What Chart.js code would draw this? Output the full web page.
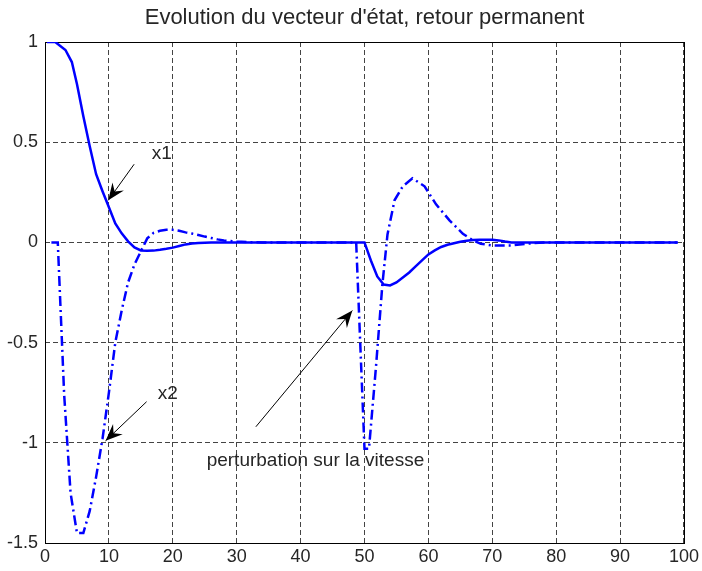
<!DOCTYPE html>
<html>
<head>
<meta charset="utf-8">
<script src="https://cdn.jsdelivr.net/npm/chart.js@4.4.0/dist/chart.umd.min.js"></script>
<style>
html, body { margin: 0; padding: 0; background: #fff; }
#wrap { width: 702px; height: 571px; }
</style>
</head>
<body>
<div id="wrap"><canvas id="myChart"></canvas></div>
<script>
var titre = "Evolution du vecteur d'état, retour permanent";

// x1 : trait plein
var x1Temps   = [0.3, 1.6, 3.2, 4.2, 5, 6, 7, 8, 9, 10, 11, 12, 13, 14, 15, 16, 17, 18, 19, 20,
                 21, 22, 23, 24, 26, 28, 35, 40, 45, 50, 51, 52, 53, 54, 55, 56, 57, 58, 59, 60,
                 61, 62, 63, 64, 65, 66, 67, 68, 70, 71, 72, 73, 80, 90, 99];
var x1Valeurs = [1, 1, 0.96, 0.9, 0.79, 0.63, 0.48, 0.34, 0.255, 0.175, 0.095, 0.045, 0.005, -0.025, -0.04, -0.042, -0.041, -0.037, -0.032, -0.026,
                 -0.018, -0.01, -0.005, -0.003, -0.001, 0, 0, 0, 0, 0, -0.09, -0.17, -0.21, -0.215, -0.2, -0.175, -0.15, -0.12, -0.09, -0.06,
                 -0.04, -0.023, -0.012, -0.004, 0.003, 0.008, 0.012, 0.013, 0.013, 0.01, 0.004, 0, 0, 0, 0];

// x2 : trait mixte
var x2Temps   = [1, 2, 3, 4, 5, 6, 7, 8, 9, 10, 11, 12, 13, 14, 15, 16, 17, 18, 19, 20,
                 21, 22, 23, 24, 25, 26, 27, 28, 29, 30, 32, 34, 40, 48.7, 50, 50.7, 51.8, 52.8, 53.6, 54.7,
                 56, 57.5, 59.4, 61.2, 63.3, 65.4, 67, 68.2, 70, 73, 76, 78, 90, 99];
var x2Valeurs = [0, 0, -0.76, -1.25, -1.45, -1.45, -1.34, -1.17, -0.98, -0.75, -0.5, -0.34, -0.2, -0.11, -0.045, 0.02, 0.048, 0.058, 0.063, 0.063,
                 0.058, 0.05, 0.044, 0.037, 0.029, 0.022, 0.015, 0.01, 0.007, 0.004, 0.001, 0, 0, 0, -1.03, -1.03, -0.62, -0.21, 0.04, 0.21,
                 0.28, 0.32, 0.28, 0.19, 0.11, 0.043, 0.01, -0.007, -0.015, -0.015, -0.005, 0, 0, 0];

// graduations
var xGraduations = [0, 10, 20, 30, 40, 50, 60, 70, 80, 90, 100];
var yGraduations = ['1', '0.5', '0', '-0.5', '-1', '-1.5'];

// annotations (coordonnees en unites du graphe)
var noteTextes = ['x1', 'x2', 'perturbation sur la vitesse'];
var noteX = [16.7, 17.65, 25.3];
var noteY = [0.44, -0.755, -1.09];
var flecheDepart  = [[13.95, 0.39], [15.9, -0.795], [33.0, -0.92]];
var flecheArrivee = [[9.9, 0.21], [9.48, -0.99], [48.1, -0.34]];

var police = "'Liberation Sans', Arial, sans-serif";
var couleurTexte = '#262626';

function points(t, v) {
    return t.map(function(x, i){ return {x: x, y: v[i]}; });
}

function fleche(ctx, xa, ya, xb, yb) {
    var ang = Math.atan2(yb - ya, xb - xa);
    ctx.beginPath();
    ctx.moveTo(xa, ya);
    ctx.lineTo(xb, yb);
    ctx.stroke();
    ctx.save();
    ctx.translate(xb, yb);
    ctx.rotate(ang);
    ctx.beginPath();
    ctx.moveTo(0, 0);
    ctx.lineTo(-17, -7);
    ctx.lineTo(-11, 0);
    ctx.lineTo(-17, 7);
    ctx.closePath();
    ctx.fill();
    ctx.restore();
}

var cadre = {
    id: 'cadre',
    beforeDatasetsDraw: function(chart) {
        var ctx = chart.ctx, a = chart.chartArea;
        ctx.save();
        ctx.strokeStyle = '#000';
        ctx.lineWidth = 1;
        ctx.setLineDash([]);
        ctx.strokeRect(Math.round(a.left) + 0.5, Math.round(a.top) + 0.5,
                       Math.round(a.right - a.left), Math.round(a.bottom - a.top));
        ctx.restore();
    },
    afterDatasetsDraw: function(chart) {
        var ctx = chart.ctx, a = chart.chartArea;
        var xs = chart.scales.x, ys = chart.scales.y;
        ctx.save();
        // titre
        ctx.fillStyle = couleurTexte;
        ctx.font = '22px ' + police;
        ctx.textAlign = 'center';
        ctx.textBaseline = 'middle';
        ctx.fillText(titre, (a.left + a.right) / 2, 18);
        // textes
        ctx.font = '19px ' + police;
        ctx.textAlign = 'left';
        for (var i = 0; i < noteTextes.length; i++) {
            ctx.fillText(noteTextes[i], xs.getPixelForValue(noteX[i]), ys.getPixelForValue(noteY[i]));
        }
        // fleches
        ctx.strokeStyle = '#000';
        ctx.fillStyle = '#000';
        ctx.lineWidth = 1;
        for (var j = 0; j < flecheDepart.length; j++) {
            fleche(ctx,
                xs.getPixelForValue(flecheDepart[j][0]), ys.getPixelForValue(flecheDepart[j][1]),
                xs.getPixelForValue(flecheArrivee[j][0]), ys.getPixelForValue(flecheArrivee[j][1]));
        }
        ctx.restore();
    }
};

var ctx = document.getElementById('myChart').getContext('2d');
var myChart = new Chart(ctx, {
    type: 'line',
    data: {
        datasets: [
            {
                label: 'x1',
                data: points(x1Temps, x1Valeurs),
                borderColor: '#0000ff',
                borderWidth: 2.5,
                pointRadius: 0,
                tension: 0,
                fill: false
            },
            {
                label: 'x2',
                data: points(x2Temps, x2Valeurs),
                borderColor: '#0000ff',
                borderWidth: 2.5,
                borderDash: [10, 4, 2, 4],
                pointRadius: 0,
                tension: 0,
                fill: false
            }
        ]
    },
    options: {
        responsive: true,
        maintainAspectRatio: false,
        animation: false,
        layout: { padding: { top: 42, right: 17, left: 0, bottom: 0 } },
        plugins: {
            legend: { display: false },
            tooltip: { enabled: false }
        },
        scales: {
            x: {
                type: 'linear',
                min: xGraduations[0],
                max: xGraduations[xGraduations.length - 1],
                afterBuildTicks: function(s) {
                    s.ticks = xGraduations.map(function(v){ return {value: v}; });
                },
                ticks: { padding: 3, color: couleurTexte, font: { family: police, size: 18 } },
                grid: { color: '#444', drawTicks: false },
                border: { display: false, dash: [5, 3] },
                afterFit: function(s) { s.height = 28; }
            },
            y: {
                min: -1.5,
                max: 1,
                afterBuildTicks: function(s) {
                    s.ticks = yGraduations.map(function(v){ return {value: parseFloat(v)}; });
                },
                ticks: {
                    padding: 7, color: couleurTexte, font: { family: police, size: 18 },
                    callback: function(v) { return yGraduations[yGraduations.indexOf(String(v))] || String(v); }
                },
                grid: { color: '#444', drawTicks: false },
                border: { display: false, dash: [5, 3] },
                afterFit: function(s) { s.width = 45; }
            }
        }
    },
    plugins: [cadre]
});
</script>
</body>
</html>
